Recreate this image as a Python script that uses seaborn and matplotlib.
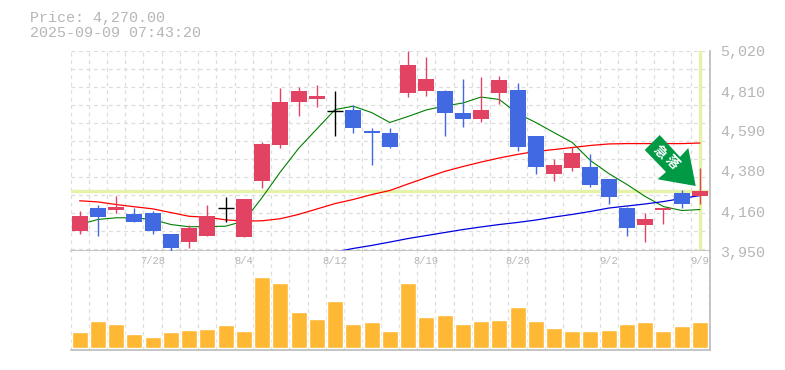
import matplotlib
matplotlib.use("Agg")
import matplotlib.pyplot as plt
import numpy as np
import pandas as pd
import seaborn as sns
from matplotlib.patches import Polygon, Rectangle

sns.set_theme(style="white")
plt.rcParams['font.family'] = ['Liberation Mono', 'DejaVu Sans']

opens = [4057, 4175, 4169, 4143, 4148, 4036, 3998, 4025, 4178, 4020, 4324, 4512, 4742, 4763, 4699, 4704, 4592, 4581,
         4795, 4801, 4801, 4688, 4656, 4790, 4811, 4560, 4357, 4389, 4399, 4330, 4180, 4084, 4169, 4260, 4239]
closes = [4132, 4127, 4185, 4105, 4057, 3961, 4073, 4137, 4178, 4223, 4522, 4747, 4801, 4774, 4699, 4603, 4576, 4506,
          4945, 4870, 4683, 4656, 4704, 4860, 4506, 4399, 4405, 4469, 4303, 4234, 4068, 4121, 4180, 4201, 4271]
highs = [4164, 4191, 4244, 4180, 4164, 4036, 4089, 4191, 4234, 4223, 4533, 4817, 4827, 4833, 4801, 4726, 4603, 4608,
         5020, 4983, 4811, 4870, 4876, 4881, 4844, 4565, 4442, 4506, 4464, 4335, 4185, 4153, 4180, 4276, 4394]
lows = [4036, 4030, 4148, 4100, 4036, 3945, 3961, 4025, 4100, 4020, 4282, 4501, 4667, 4720, 4560, 4576, 4410, 4501,
        4769, 4779, 4560, 4613, 4635, 4736, 4485, 4357, 4324, 4373, 4292, 4201, 4030, 3998, 4094, 4175, 4201]
ma_red = [4216, 4210, 4196, 4184, 4173, 4153, 4133, 4128, 4114, 4107, 4109, 4120, 4143, 4172, 4201, 4223, 4249, 4271,
          4306, 4340, 4373, 4399, 4423, 4445, 4464, 4480, 4490, 4501, 4512, 4520, 4522, 4522, 4522, 4522, 4525]
ma_green = [4089, 4116, 4125, 4125, 4116, 4089, 4077, 4078, 4080, 4107, 4233, 4370, 4496, 4600, 4704, 4722, 4688, 4635,
            4667, 4702, 4723, 4739, 4771, 4758, 4683, 4635, 4581, 4528, 4431, 4362, 4303, 4239, 4185, 4164, 4169]
ma_blue = [3942, 3961, 3977, 3995, 4014, 4030, 4046, 4062, 4076, 4089, 4100, 4113, 4129, 4143, 4159, 4177, 4188, 4199,
           4212, 4228, 4244]
volumes = [16, 27, 24, 14, 11, 16, 18, 19, 23, 17, 71, 65, 36, 29, 47, 24, 26, 17,
           65, 31, 33, 24, 27, 28, 41, 27, 20, 17, 17, 18, 24, 26, 17, 22, 26]
price_ticks = [5020, 4810, 4590, 4380, 4160, 3950]
date_labels = ["7/28", "8/4", "8/12", "8/19", "8/26", "9/2", "9/9"]
date_positions = [4, 9, 14, 19, 24, 29, 34]
last_price = 4270
price_text = "Price: 4,270.00"
time_text = "2025-09-09 07:43:20"
arrow_text = ["急", "落"]

RED, BLUE, BLACK = "#E24363", "#4169E1", "#000000"
GRID, EDGE, TXT = "#DDDDDD", "#BBBBBB", "#B6B6B6"
W, H = 785, 370
L, R = 70.5, 710

fig = plt.figure(figsize=(W / 100, H / 100), dpi=100, facecolor="white")
ax = fig.add_axes([L / W, 1 - 250.5 / H, (R - L) / W, 200 / H])
axv = fig.add_axes([L / W, 1 - 350 / H, (R - L) / W, 99.5 / H], sharex=ax)

x = np.arange(len(opens))
xlim = (-0.5, 34.55)
grid_x = np.arange(-0.5, 35, 1)
grid_y = np.arange(5020, 3950, -5.35 * 18)

for a in (ax, axv):
    a.set_facecolor("white")
    a.vlines(grid_x, 0, 1, transform=a.get_xaxis_transform(), color=GRID, lw=0.9, ls=(0, (3, 3)), zorder=0)
    for s in ("left", "top"):
        a.spines[s].set_visible(False)
    for s in ("right", "bottom"):
        a.spines[s].set_color(EDGE)
        a.spines[s].set_linewidth(1.2)
    a.tick_params(length=0, labelbottom=False, labelleft=False)
ax.hlines(grid_y, 0, 1, transform=ax.get_yaxis_transform(), color=GRID, lw=0.9, ls=(0, (3, 3)), zorder=0)
ax.set_xlim(*xlim)
ax.set_ylim(5020 - 5.35 * 200, 5020)
ax.set_yticks([])
axv.set_yticks([])

HL = "#E4F3A8"
ax.axhline(last_price, color=HL, lw=2.4, zorder=1)
ax.axvline(34, color=HL, lw=2.4, zorder=1, ymin=0.005)

df_r = pd.DataFrame({"x": x, "y": ma_red})
df_g = pd.DataFrame({"x": x, "y": ma_green})
df_b = pd.DataFrame({"x": x[-len(ma_blue):], "y": ma_blue})
sns.lineplot(data=df_g, x="x", y="y", ax=ax, color="#008000", lw=0.8, errorbar=None, zorder=2)
sns.lineplot(data=df_r, x="x", y="y", ax=ax, color="#FF0000", lw=0.9, errorbar=None, zorder=2)
sns.lineplot(data=df_b, x="x", y="y", ax=ax, color="#0000E0", lw=0.9, errorbar=None, zorder=2)
ax.set_xlabel("")
ax.set_ylabel("")

bw = 16 / 18.235
for i in x:
    o, c = opens[i], closes[i]
    col = BLACK if o == c else (RED if c > o else BLUE)
    ax.vlines(i, lows[i], highs[i], color=col, lw=1.0, zorder=3)
    if o == c:
        ax.hlines(o, i - bw / 2, i + bw / 2, color=col, lw=1.0, zorder=3)
    else:
        ax.add_patch(Rectangle((i - bw / 2, min(o, c)), bw, abs(c - o), fc=col, ec="none", zorder=3))

sns.barplot(x=x, y=volumes, ax=axv, native_scale=True, color="#FFB833", width=bw, saturation=1, zorder=2)
axv.set_xlim(*xlim)
axv.set_ylim(-2, 97.5)
axv.set_xlabel("")
axv.set_ylabel("")
axv.tick_params(length=0, labelbottom=False, labelleft=False)


def px(xp, yp):
    return xp / W, 1 - yp / H


pts = [(659.7, 135), (644.7, 150), (666, 172), (657.7, 179.3), (695.7, 186), (688.3, 148), (680, 157)]
fig.add_artist(Polygon([px(*p) for p in pts], closed=True, transform=fig.transFigure, fc="#009944", ec="none", zorder=5))
for ch, (xp, yp) in zip(arrow_text, [(660, 152), (672, 162.5)]):
    fig.text(*px(xp, yp), ch, color="white", fontsize=9.5, rotation=-45, ha="center", va="center", rotation_mode="anchor",
             family=["Noto Sans CJK JP", "DejaVu Sans"], weight="bold", zorder=6)

fig.text(*px(30, 18), price_text, color=TXT, fontsize=10.8, ha="left", va="center")
fig.text(*px(30, 33), time_text, color=TXT, fontsize=10.8, ha="left", va="center")
for p, yp in zip(price_ticks, [52, 93, 132, 172, 213, 253]):
    fig.text(*px(720, yp), f"{p:,}", color=TXT, fontsize=10.8, ha="left", va="center")
for lab, pos in zip(date_labels, date_positions):
    xp = L + (pos - xlim[0]) / (xlim[1] - xlim[0]) * (R - L)
    fig.text(*px(xp, 261), lab, color=TXT, fontsize=7.6, ha="center", va="center")

fig.savefig("out.png", dpi=100, facecolor="white")
